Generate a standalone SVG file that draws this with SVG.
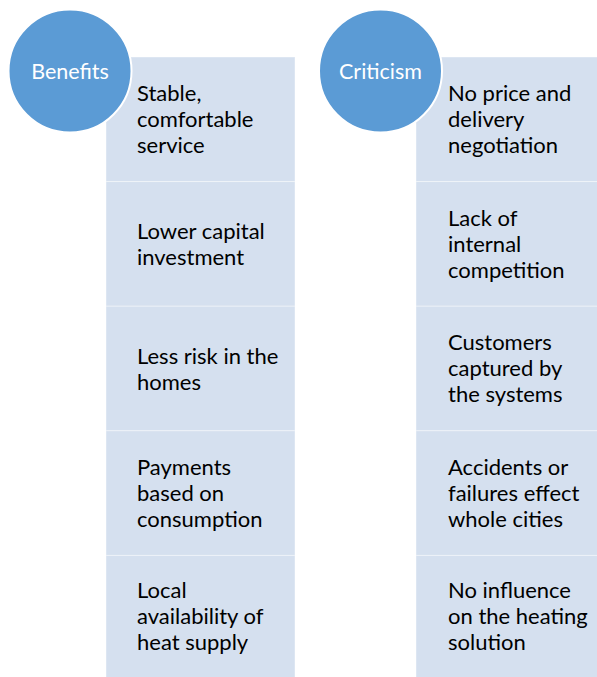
<svg xmlns="http://www.w3.org/2000/svg" width="597" height="677" viewBox="0 0 597 677">
  <style>
    .bg { fill: #ffffff; }
    .cell { fill: #d5e0ef; stroke: #ffffff; stroke-opacity: 0.4; stroke-width: 1; }
    .head { fill: #5b9bd5; stroke: #ffffff; stroke-width: 2; }
    .head-label { font-family: Lato, "Liberation Sans", sans-serif; font-size: 21.5px; fill: #ffffff; text-anchor: middle; }
    .item { font-family: Lato, "Liberation Sans", sans-serif; font-size: 22px; fill: #000000; }
  </style>
  <rect class="bg" x="0" y="0" width="597" height="677"/>

  <!-- Benefits column -->
  <g id="benefits-items">
    <g id="b1">
      <rect class="cell" x="106" y="57" width="189" height="124.6"/>
      <text class="item"><tspan x="137" y="101">Stable,</tspan><tspan x="137" y="127">comfortable</tspan><tspan x="137" y="153">service</tspan></text>
    </g>
    <g id="b2">
      <rect class="cell" x="106" y="181.6" width="189" height="124.6"/>
      <text class="item"><tspan x="137" y="239">Lower capital</tspan><tspan x="137" y="265">investment</tspan></text>
    </g>
    <g id="b3">
      <rect class="cell" x="106" y="306.2" width="189" height="124.6"/>
      <text class="item"><tspan x="137" y="363.5">Less risk in the</tspan><tspan x="137" y="389.5">homes</tspan></text>
    </g>
    <g id="b4">
      <rect class="cell" x="106" y="430.8" width="189" height="124.6"/>
      <text class="item"><tspan x="137" y="474.5">Payments</tspan><tspan x="137" y="500.5">based on</tspan><tspan x="137" y="526.5">consumption</tspan></text>
    </g>
    <g id="b5">
      <rect class="cell" x="106" y="555.4" width="189" height="124.6"/>
      <text class="item"><tspan x="137" y="598">Local</tspan><tspan x="137" y="624">availability of</tspan><tspan x="137" y="650">heat supply</tspan></text>
    </g>
  </g>
  <g id="benefits">
    <circle class="head" cx="70" cy="71" r="61.5"/>
    <text class="head-label" x="70" y="78.5">Benefits</text>
  </g>

  <!-- Criticism column -->
  <g id="criticism-items">
    <g id="c1">
      <rect class="cell" x="416" y="57" width="189" height="124.6"/>
      <text class="item"><tspan x="448" y="101">No price and</tspan><tspan x="448" y="127">delivery</tspan><tspan x="448" y="153">negotiation</tspan></text>
    </g>
    <g id="c2">
      <rect class="cell" x="416" y="181.6" width="189" height="124.6"/>
      <text class="item"><tspan x="448" y="225.5">Lack of</tspan><tspan x="448" y="251.5">internal</tspan><tspan x="448" y="277.5">competition</tspan></text>
    </g>
    <g id="c3">
      <rect class="cell" x="416" y="306.2" width="189" height="124.6"/>
      <text class="item"><tspan x="448" y="350">Customers</tspan><tspan x="448" y="376">captured by</tspan><tspan x="448" y="402">the systems</tspan></text>
    </g>
    <g id="c4">
      <rect class="cell" x="416" y="430.8" width="189" height="124.6"/>
      <text class="item"><tspan x="448" y="474.5">Accidents or</tspan><tspan x="448" y="500.5">failures effect</tspan><tspan x="448" y="526.5">whole cities</tspan></text>
    </g>
    <g id="c5">
      <rect class="cell" x="416" y="555.4" width="189" height="124.6"/>
      <text class="item"><tspan x="448" y="598">No influence</tspan><tspan x="448" y="624">on the heating</tspan><tspan x="448" y="650">solution</tspan></text>
    </g>
  </g>
  <g id="criticism">
    <circle class="head" cx="380.5" cy="71" r="61.5"/>
    <text class="head-label" x="380.5" y="78.5">Criticism</text>
  </g>

  <!-- no connectors in this diagram -->
  <g id="connectors"/>
</svg>
